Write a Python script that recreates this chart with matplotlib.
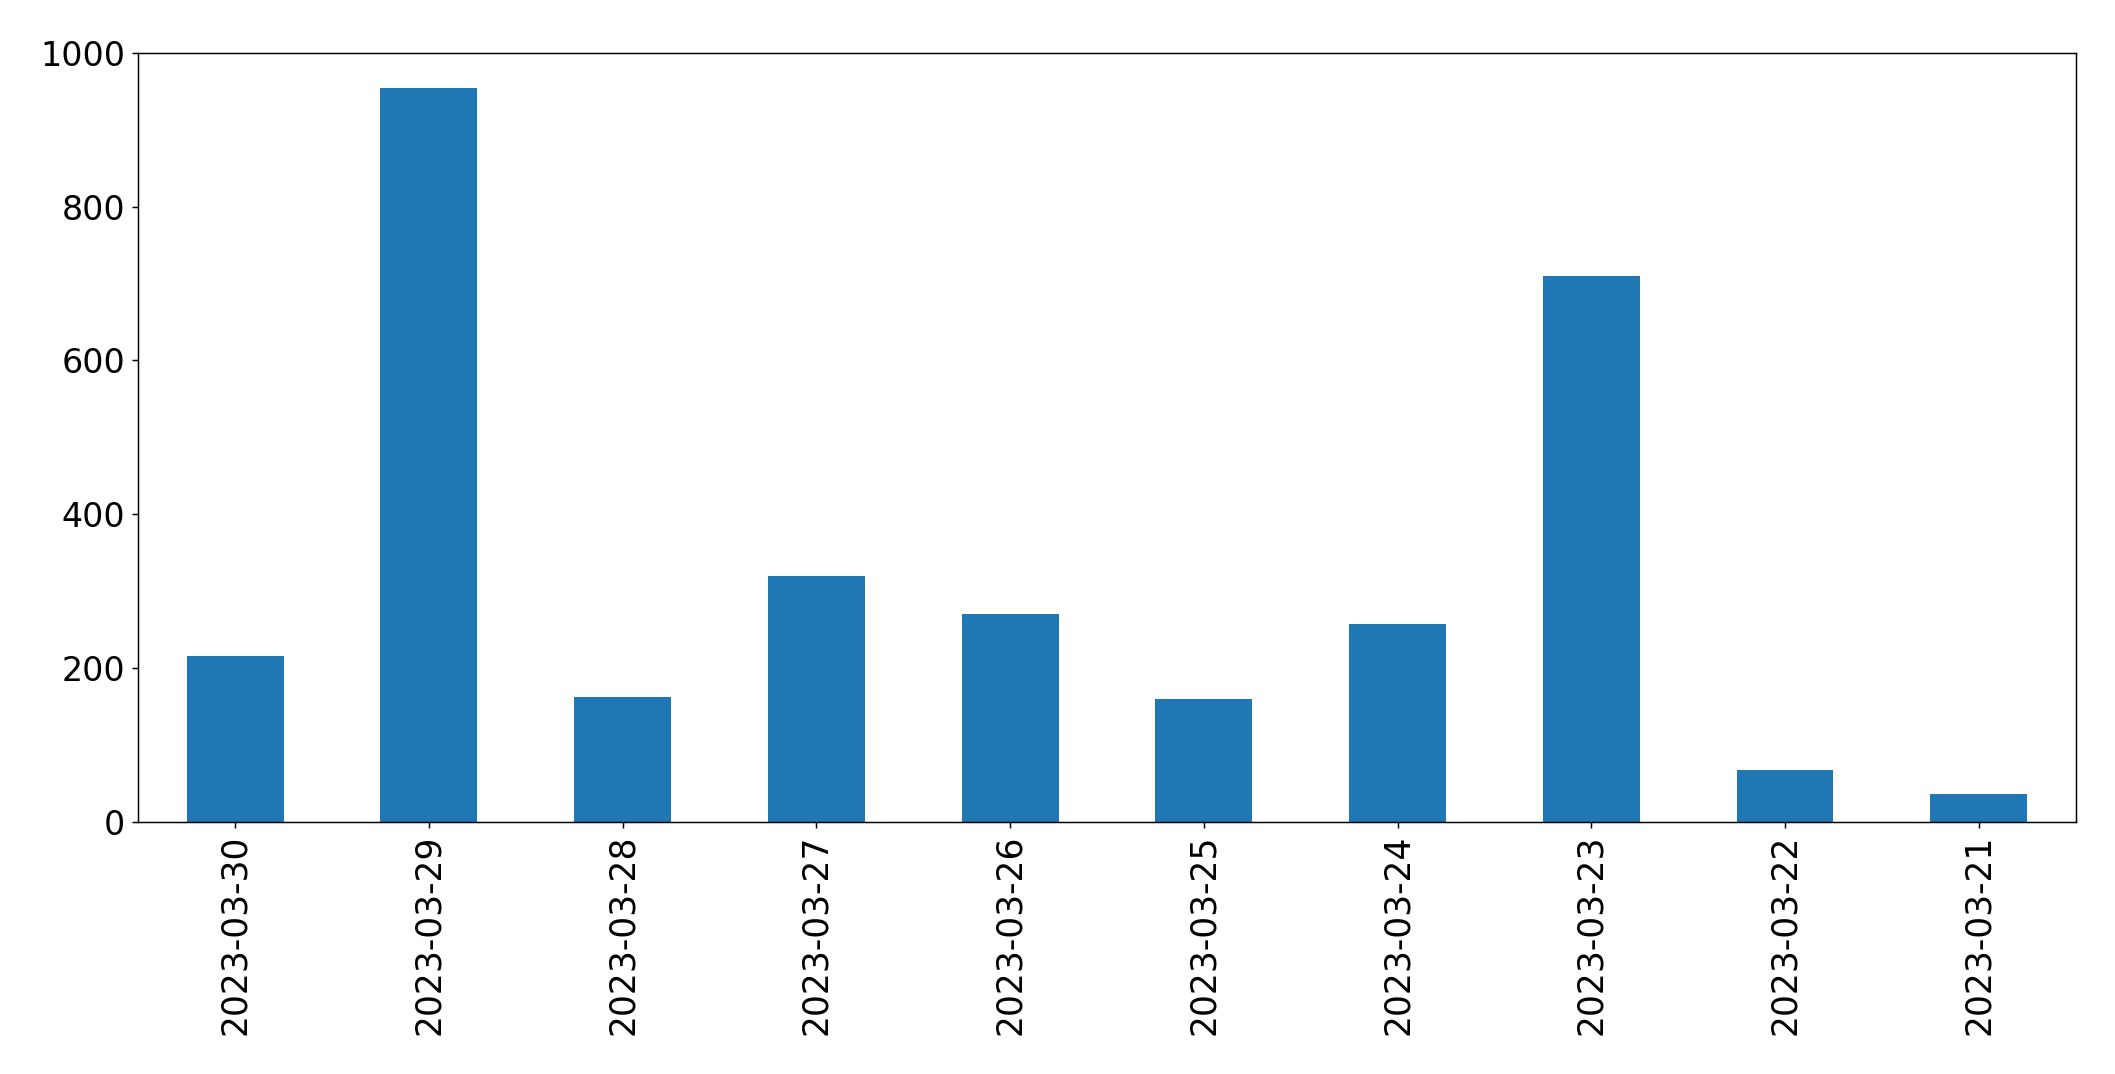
import numpy as np
import pandas as pd
import matplotlib
matplotlib.use("Agg")
import matplotlib.pyplot as plt

# daily counts, newest first (as in the original frame)
fechas = ['2023-03-30', '2023-03-29', '2023-03-28', '2023-03-27', '2023-03-26',
          '2023-03-25', '2023-03-24', '2023-03-23', '2023-03-22', '2023-03-21']
conteos = [216, 954, 163, 320, 271, 160, 258, 710, 67, 37]

serie = pd.Series(conteos, index=fechas)

plt.rcParams['font.size'] = 18

fig = plt.figure(figsize=(2115 / 133, 1074 / 133), dpi=133)
ax = fig.add_subplot(111)
serie.plot(kind='bar', ax=ax, color='#1f77b4')
ax.set_ylim(0, 1000)
ax.tick_params(axis='x', labelsize=18.7)

fig.subplots_adjust(left=0.0654, right=0.9814, top=0.9509, bottom=0.2346)

# Guarda la figura
plt.savefig('out.png', dpi=133)
plt.close()
